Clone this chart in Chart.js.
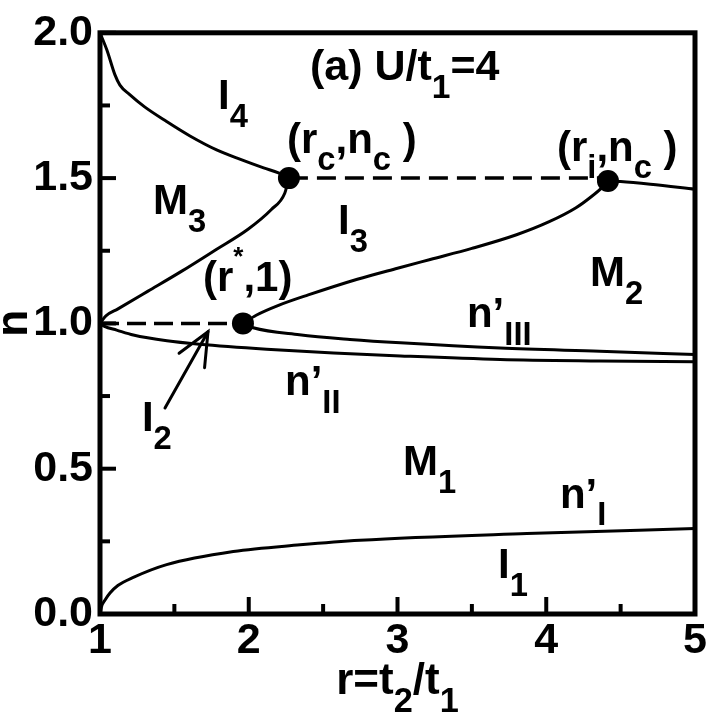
<!DOCTYPE html>
<html><head><meta charset="utf-8">
<script src="https://cdn.jsdelivr.net/npm/chart.js@4/dist/chart.umd.min.js"></script>
<style>html,body{margin:0;padding:0;background:#fff}canvas{display:block}</style>
</head><body>
<canvas id="c" width="709" height="718"></canvas>
<script>
// ---- tick values ----
const xTicks = [1, 2, 3, 4, 5];
const xMinorTicks = [1.5, 2.5, 3.5, 4.5];
const yTicks = [0.0, 0.5, 1.0, 1.5, 2.0];
const yMinorTicks = [0.25, 0.75, 1.25, 1.75];

// ---- phase boundaries (r, n) ----
const i4BoundaryR = [1.00, 1.047, 1.10, 1.134, 1.20, 1.30, 1.45, 1.605, 1.784, 1.94, 2.10, 2.20, 2.27];
const i4BoundaryN = [2.00, 1.94, 1.856, 1.82, 1.787, 1.745, 1.694, 1.645, 1.597, 1.565, 1.535, 1.518, 1.50];

const m3BoundaryR = [1.00, 1.009, 1.04, 1.121, 1.323, 1.547, 1.771, 1.995, 2.152, 2.242, 2.27];
const m3BoundaryN = [1.00, 1.006, 1.026, 1.050, 1.111, 1.179, 1.251, 1.324, 1.392, 1.448, 1.50];

const i3BoundaryR = [1.961, 2.05, 2.20, 2.40, 2.73, 3.00, 3.22, 3.50, 3.80, 4.02, 4.20, 4.30, 4.38, 4.415];
const i3BoundaryN = [1.00, 1.028, 1.062, 1.098, 1.152, 1.190, 1.220, 1.258, 1.305, 1.350, 1.398, 1.435, 1.470, 1.49];

const ncDashR = [2.27, 4.415];
const ncDashN = [1.5, 1.5];

const m2TopR = [4.415, 4.50, 4.70, 5.00];
const m2TopN = [1.49, 1.488, 1.479, 1.462];

const halfDashR = [1.00, 1.961];
const halfDashN = [1.0, 1.0];

const n3R = [1.961, 2.03, 2.34, 2.68, 3.02, 3.69, 4.36, 5.00];
const n3N = [1.00, 0.985, 0.961, 0.945, 0.933, 0.915, 0.904, 0.893];

const n2R = [1.00, 1.03, 1.112, 1.224, 1.45, 1.67, 2.12, 2.57, 3.02, 3.69, 4.36, 5.00];
const n2N = [1.00, 0.99, 0.977, 0.960, 0.940, 0.928, 0.911, 0.898, 0.888, 0.876, 0.871, 0.868];

const n1R = [1.00, 1.01, 1.034, 1.067, 1.12, 1.224, 1.448, 1.896, 2.345, 2.748, 3.87, 5.00];
const n1N = [0.00, 0.025, 0.048, 0.072, 0.098, 0.126, 0.170, 0.215, 0.238, 0.254, 0.277, 0.294];

// special points: (rc,nc), (ri,nc), (r*,1)
const pointR = [2.27, 4.415, 1.961];
const pointN = [1.50, 1.49, 1.00];

// arrow for I2 (tail -> tip)
const arrowR = [1.437, 1.726];
const arrowN = [0.709, 0.971];

// region / point annotations (text, r, n of left baseline)
const noteText = ['(a) U/t_{1}=4', 'I_{4}', '(r_{c},n_{c} )', 'M_{3}', 'I_{3}', '(r^{*},1)', '(r_{i},n_{c} )',
                  'M_{2}', 'n\u2019_{III}', 'n\u2019_{II}', 'I_{2}', 'M_{1}', 'n\u2019_{I}', 'I_{1}'];
const noteR = [2.412, 1.793, 2.257, 1.356, 2.60, 1.692, 4.072, 4.294, 3.467, 2.244, 1.282, 3.037, 4.092, 3.676];
const noteN = [1.839, 1.738, 1.587, 1.375, 1.308, 1.113, 1.560, 1.129, 0.988, 0.753, 0.629, 0.477, 0.366, 0.124];

const xTitle = 'r=t_{2}/t_{1}';
const yTitle = 'n';

// ---------------------------------------------------------
const FONT = '"Liberation Sans", Arial, Helvetica, sans-serif';
const pts = (xs, ys) => xs.map((x, i) => ({x: x, y: ys[i]}));

function parseRich(s) {
  const parts = [];
  const re = /([_^])\{([^}]*)\}/g;
  let last = 0, m;
  while ((m = re.exec(s)) !== null) {
    if (m.index > last) parts.push({t: s.slice(last, m.index)});
    parts.push({t: m[2], sub: m[1] === '_', sup: m[1] === '^'});
    last = re.lastIndex;
  }
  if (last < s.length) parts.push({t: s.slice(last)});
  return parts;
}
function partFont(p, size) {
  let fs = size, dy = 0;
  if (p.sub) { fs = size * 0.78; dy = size * 0.42; }
  if (p.sup) { fs = size * 0.62; dy = -size * 0.60; }
  return {font: 'bold ' + fs + 'px ' + FONT, dy: dy};
}
function richWidth(ctx, s, size) {
  let w = 0;
  for (const p of parseRich(s)) { ctx.font = partFont(p, size).font; w += ctx.measureText(p.t).width; }
  return w;
}
function drawRich(ctx, x, y, s, size) {
  let cx = x;
  ctx.textAlign = 'left';
  ctx.textBaseline = 'alphabetic';
  for (const p of parseRich(s)) {
    const f = partFont(p, size);
    ctx.font = f.font;
    ctx.fillText(p.t, cx, y + f.dy);
    cx += ctx.measureText(p.t).width;
  }
}

const decor = {
  id: 'decor',
  afterDatasetsDraw(chart) {
    const ctx = chart.ctx, a = chart.chartArea;
    const xs = chart.scales.x, ys = chart.scales.y;
    ctx.save();
    ctx.strokeStyle = '#000';
    ctx.fillStyle = '#000';
    // inward ticks
    ctx.lineWidth = 4;
    ctx.lineCap = 'butt';
    const tick = (x1, y1, x2, y2) => { ctx.beginPath(); ctx.moveTo(x1, y1); ctx.lineTo(x2, y2); ctx.stroke(); };
    xTicks.forEach(v => { const px = xs.getPixelForValue(v); tick(px, a.bottom, px, a.bottom - 17); });
    xMinorTicks.forEach(v => { const px = xs.getPixelForValue(v); tick(px, a.bottom, px, a.bottom - 10); });
    yTicks.forEach(v => { const py = ys.getPixelForValue(v); tick(a.left, py, a.left + 16, py); });
    yMinorTicks.forEach(v => { const py = ys.getPixelForValue(v); tick(a.left, py, a.left + 10, py); });
    // frame
    ctx.lineWidth = 5;
    ctx.lineJoin = 'miter';
    ctx.strokeRect(a.left, a.top, a.right - a.left, a.bottom - a.top);
    // arrow
    const tx = xs.getPixelForValue(arrowR[0]), ty = ys.getPixelForValue(arrowN[0]);
    const hx = xs.getPixelForValue(arrowR[1]), hy = ys.getPixelForValue(arrowN[1]);
    ctx.lineWidth = 3;
    ctx.lineCap = 'round';
    tick(tx, ty, hx, hy);
    const ang = Math.atan2(ty - hy, tx - hx);
    const L = 36, spread = 24 * Math.PI / 180;
    ctx.beginPath();
    ctx.moveTo(hx + L * Math.cos(ang + spread), hy + L * Math.sin(ang + spread));
    ctx.lineTo(hx, hy);
    ctx.lineTo(hx + L * Math.cos(ang - spread), hy + L * Math.sin(ang - spread));
    ctx.stroke();
    // annotations
    noteText.forEach((t, i) => {
      const size = i === 0 ? 43 : 42;
      drawRich(ctx, xs.getPixelForValue(noteR[i]), ys.getPixelForValue(noteN[i]), t, size);
    });
    ctx.restore();
  },
  afterDraw(chart) {
    const ctx = chart.ctx, a = chart.chartArea;
    ctx.save();
    ctx.fillStyle = '#000';
    // x title
    const w = richWidth(ctx, xTitle, 44);
    drawRich(ctx, (a.left + a.right) / 2 - w / 2, a.bottom + 80, xTitle, 44);
    // y title (rotated)
    ctx.translate(27, (a.top + a.bottom) / 2);
    ctx.rotate(-Math.PI / 2);
    const wy = richWidth(ctx, yTitle, 44);
    drawRich(ctx, -wy / 2, 0, yTitle, 44);
    ctx.restore();
  }
};

const lineDs = (xs, ys, dash) => ({
  data: pts(xs, ys), showLine: true, borderColor: '#000', backgroundColor: '#000',
  borderWidth: dash ? 3.5 : 3, borderDash: dash || [], pointRadius: 0, pointHoverRadius: 0,
  cubicInterpolationMode: dash ? 'default' : 'monotone', fill: false
});

const tickFont = {family: FONT, size: 43, weight: 'bold'};

new Chart(document.getElementById('c'), {
  type: 'scatter',
  data: {
    datasets: [
      {data: pts(pointR, pointN), pointRadius: 11, pointHoverRadius: 11, pointBackgroundColor: '#000',
       pointBorderWidth: 0, borderColor: '#000', showLine: false},
      lineDs(i4BoundaryR, i4BoundaryN),
      lineDs(m3BoundaryR, m3BoundaryN),
      lineDs(i3BoundaryR, i3BoundaryN),
      lineDs(ncDashR, ncDashN, [19, 9]),
      lineDs(m2TopR, m2TopN),
      lineDs(halfDashR, halfDashN, [19, 8]),
      lineDs(n3R, n3N),
      lineDs(n2R, n2N),
      lineDs(n1R, n1N)
    ]
  },
  options: {
    responsive: false, animation: false, devicePixelRatio: 1,
    layout: {padding: {top: 19, right: 14, left: 0, bottom: 0}},
    plugins: {legend: {display: false}, tooltip: {enabled: false}, title: {display: false}},
    scales: {
      x: {
        type: 'linear', min: 1, max: 5,
        afterBuildTicks: s => { s.ticks = xTicks.map(v => ({value: v})); },
        afterFit: s => { s.height = 104; },
        grid: {display: false, drawTicks: false}, border: {display: false},
        ticks: {padding: 1, color: '#000', font: tickFont, maxRotation: 0, autoSkip: false,
                callback: v => String(v)}
      },
      y: {
        type: 'linear', min: 0, max: 2,
        afterBuildTicks: s => { s.ticks = yTicks.map(v => ({value: v})); },
        afterFit: s => { s.width = 100; },
        grid: {display: false, drawTicks: false}, border: {display: false},
        ticks: {padding: 7, color: '#000', font: tickFont, autoSkip: false,
                callback: v => Number(v).toFixed(1)}
      }
    }
  },
  plugins: [decor]
});
</script>
</body></html>
